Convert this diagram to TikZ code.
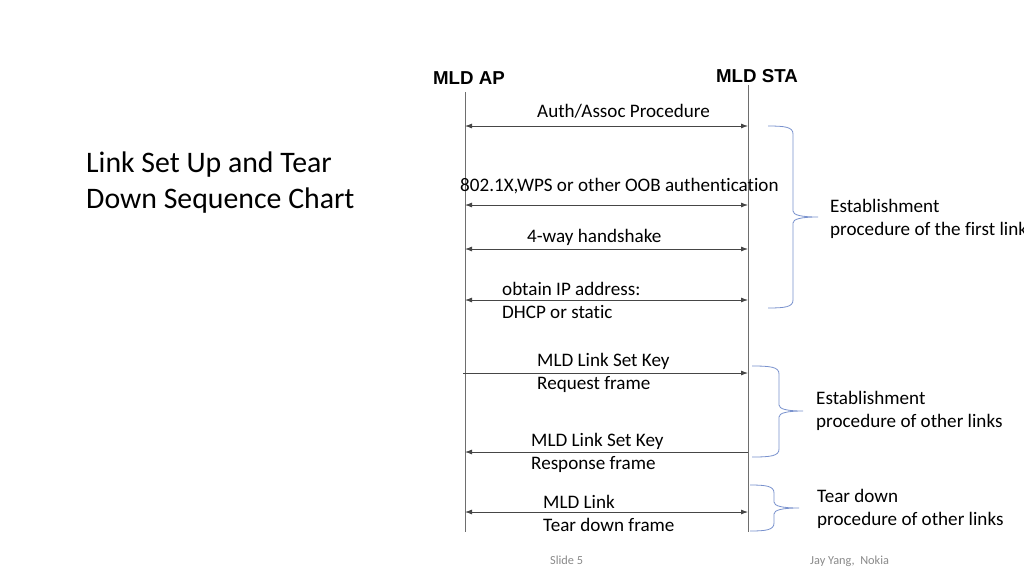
\documentclass[tikz,border=0pt]{standalone}
\usepackage{fontspec}
\setmainfont[Ligatures=NoCommon]{Carlito}
\newfontfamily\headfont{Liberation Sans}
\usepackage{xcolor}
\usetikzlibrary{arrows.meta}

\definecolor{lifecol}{RGB}{110,110,110}
\definecolor{msgcol}{RGB}{70,70,70}
\definecolor{bracecol}{RGB}{120,145,205}
\definecolor{footcol}{RGB}{137,137,137}

\begin{document}
\begin{tikzpicture}[x=1pt,y=-1pt,
    head/.style={inner sep=0pt,font=\headfont\bfseries\fontsize{18.7}{22}\selectfont},
    lbl/.style={anchor=west,inner sep=0pt,align=left,font=\fontsize{19.1}{23}\selectfont},
    msg/.style={draw=msgcol,line width=0.8pt,>={Latex[length=7pt,width=5pt]}},
    life/.style={draw=lifecol,line width=0.8pt},
    bracket/.style={draw=bracecol,line width=0.8pt},
    foot/.style={inner sep=0pt,text=footcol,font=\fontsize{12.3}{14}\selectfont}]
  \useasboundingbox (0,0) rectangle (1024,576);

  % lifelines
  \node[head] (ap) at (469,78) {MLD AP};
  \node[head] (sta) at (757,76) {MLD STA};
  \coordinate (ap-top) at (465,92);
  \coordinate (ap-bot) at (465,532);
  \coordinate (sta-top) at (748,85);
  \coordinate (sta-bot) at (748,532);
  \draw[life] (ap-top) -- (ap-bot);
  \draw[life] (sta-top) -- (sta-bot);

  \foreach \n/\y in {1/126,2/205,3/249,4/300,5/373,6/452,7/512}{
    \coordinate (ap-\n) at (465,\y);
    \coordinate (sta-\n) at (748,\y);
  }
  \coordinate (ap-5s) at (463,373);

  % messages
  \draw[msg,<->] (ap-1) -- (sta-1);
  \draw[msg,<->] (ap-2) -- (sta-2);
  \draw[msg,<->] (ap-3) -- (sta-3);
  \draw[msg,<->] (ap-4) -- (sta-4);
  \draw[msg,->] (ap-5s) -- (sta-5);
  \draw[msg,->] (sta-6) -- (ap-6);
  \draw[msg,<->] (ap-7) -- (sta-7);

  \node[lbl] (auth) at (537,111) {Auth/Assoc Procedure};
  \node[lbl] (oob) at (460,186) {802.1X,WPS or other OOB authentication};
  \node[lbl] (hshake) at (527,237) {4-way handshake};
  \node[lbl] (ipaddr) at (502,300.5) {obtain IP address:\\DHCP or static};
  \node[lbl] (req) at (537,373) {MLD Link Set Key\\Request frame};
  \node[lbl] (resp) at (531,453) {MLD Link Set Key\\Response frame};
  \node[lbl] (tdown) at (543,513) {MLD Link\\Tear down frame};

  % braces
  \foreach \xl/\xm/\xt/\yt/\ym/\yb in {768/793/818/126/217/308,
      752/779/803/366/411/457, 750/774/799/485/508/531}{
    \draw[bracket] (\xl,\yt) .. controls (\xm-8,\yt) and (\xm,\yt+1) .. (\xm,\yt+8)
      -- (\xm,\ym-6) .. controls (\xm,\ym-2) and (\xm+8,\ym) .. (\xt,\ym)
      .. controls (\xm+8,\ym) and (\xm,\ym+2) .. (\xm,\ym+6)
      -- (\xm,\yb-8) .. controls (\xm,\yb-1) and (\xm-8,\yb) .. (\xl,\yb);
  }

  \node[lbl] (firstlink) at (830,219) {Establishment\\procedure of the first link};
  \node[lbl] (otherlinks) at (816,411) {Establishment\\procedure of other links};
  \node[lbl] (teardown) at (817,509) {Tear down\\procedure of other links};

  % title and footer
  \node[anchor=west,inner sep=0pt,align=left,font=\fontsize{29.8}{36}\selectfont]
    (title) at (86,182.5) {Link Set Up and Tear\\Down Sequence Chart};
  \node[foot,anchor=base west] (slide) at (550,564) {Slide 5};
  \node[foot,anchor=base west] (author) at (810,564) {Jay Yang,~~Nokia};
\end{tikzpicture}
\end{document}
